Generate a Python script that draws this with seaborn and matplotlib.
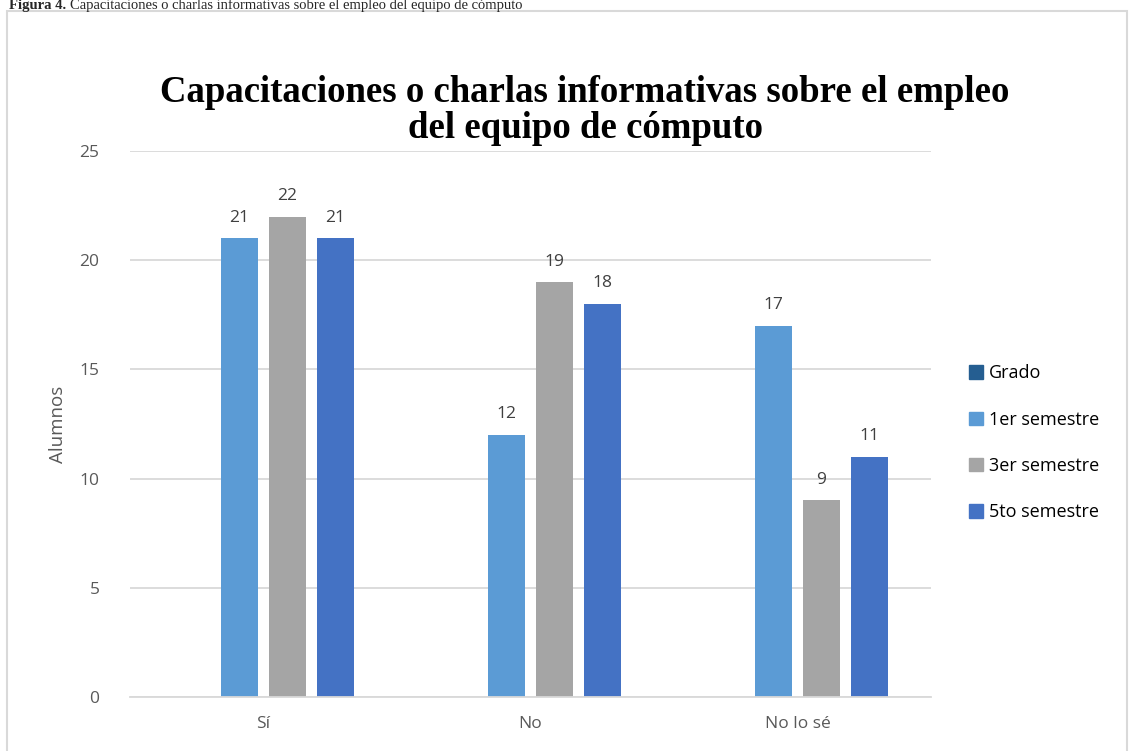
import matplotlib
matplotlib.use("Agg")
import matplotlib.pyplot as plt
import seaborn as sns
import pandas as pd
from matplotlib.patches import Rectangle

categories = ["Sí", "No", "No lo sé"]
series = ["Grado", "1er semestre", "3er semestre", "5to semestre"]
grado = [0, 0, 0]
primer = [21, 12, 17]
tercer = [22, 19, 9]
quinto = [21, 18, 11]
colors = ["#255E91", "#5B9BD5", "#A5A5A5", "#4472C4"]
yticks = [0, 5, 10, 15, 20, 25]

rows = []
for s, vals in zip(series, [grado, primer, tercer, quinto]):
    for c, v in zip(categories, vals):
        rows.append({"Respuesta": c, "Serie": s, "Alumnos": v})
df = pd.DataFrame(rows)

sns.set_theme(style="white")
plt.rcParams["font.family"] = ["Open Sans", "DejaVu Sans"]

W, H = 1130, 751
fig = plt.figure(figsize=(W / 100, H / 100), dpi=100)
ax = fig.add_axes([130 / W, 1 - 697 / H, (931 - 130) / W, (697 - 151) / H])

sns.barplot(data=df, x="Respuesta", y="Alumnos", hue="Serie", order=categories,
            hue_order=series, palette=colors, saturation=1, width=0.72, gap=0.23,
            linewidth=0, errorbar=None, ax=ax, legend=False)

ax.set_ylim(0, 25)
ax.set_yticks(yticks)
ax.set_xlim(-0.5, len(categories) - 0.5)
ax.yaxis.grid(True, color="#D9D9D9", linewidth=1.3)
ax.set_axisbelow(True)
for sp in ["top", "right", "left"]:
    ax.spines[sp].set_visible(False)
ax.spines["bottom"].set_color("#D9D9D9")
ax.spines["bottom"].set_linewidth(1.3)
ax.tick_params(axis="both", length=0, labelsize=12.5, colors="#595959")
ax.tick_params(axis="x", pad=14)
ax.tick_params(axis="y", pad=22)
ax.set_xlabel("")
ax.set_ylabel("Alumnos", fontsize=13.5, color="#595959", labelpad=9)

for i, cont in enumerate(ax.containers):
    if i == 0:
        continue
    ax.bar_label(cont, labels=[f"{int(b.get_height())}" for b in cont],
                 padding=9, fontsize=12.5, color="#404040")

# legend
handles = [Rectangle((0, 0), 1, 1, color=c) for c in colors]
leg = fig.legend(handles, series, loc="upper left",
                 bbox_to_anchor=(962 / W, 1 - 357 / H), frameon=False,
                 fontsize=13, handlelength=0.75, handleheight=0.75,
                 handletextpad=0.35, labelspacing=1.57, borderaxespad=0)
for t in leg.get_texts():
    t.set_color("#000000")

# title
fig.text(585 / W, 1 - 138 / H, "Capacitaciones o charlas informativas sobre el empleo\ndel equipo de cómputo",
         ha="center", va="baseline", fontsize=26.5, fontweight="bold",
         family=["Liberation Serif", "DejaVu Serif"], linespacing=1.02, color="#000000")

# chart frame
fig.patches.append(Rectangle((7 / W, -0.05), (1127 - 7) / W, 1.05 - 11 / H,
                             transform=fig.transFigure, fill=False,
                             edgecolor="#D9D9D9", linewidth=1.5))

# caption at the top
serif = ["Liberation Serif", "DejaVu Serif"]
t1 = fig.text(9 / W, 1 - 9 / H, "Figura 4.", ha="left", va="baseline", fontsize=10.5,
              fontweight="bold", family=serif)
fig.canvas.draw()
bb = t1.get_window_extent()
fig.text((bb.x1 + 4) / W, 1 - 9 / H,
         "Capacitaciones o charlas informativas sobre el empleo del equipo de cómputo",
         ha="left", va="baseline", fontsize=10.5, family=serif)

fig.savefig("out.png", dpi=100)
